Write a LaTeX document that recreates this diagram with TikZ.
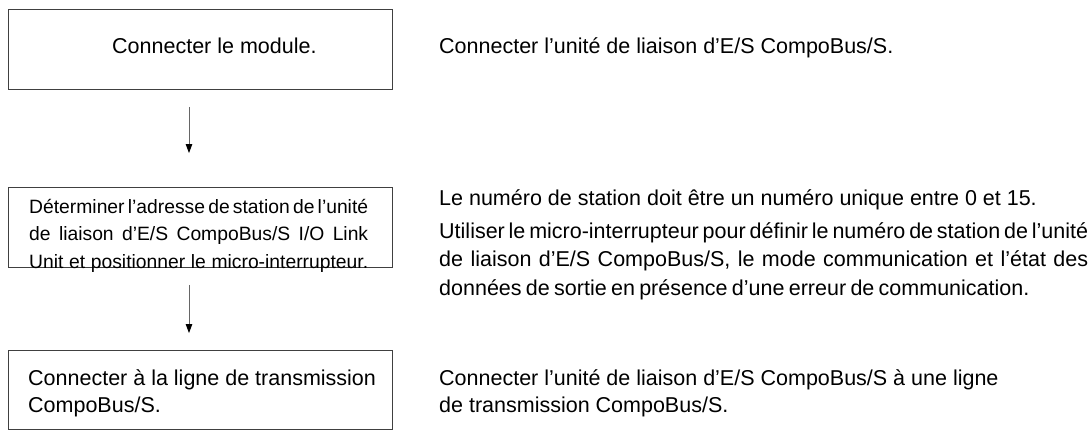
\documentclass[tikz,border=0pt]{standalone}
\usepackage{fontspec}
\setmainfont{Liberation Sans}
\usetikzlibrary{arrows.meta}

\newcommand\boxfont{\fontsize{21.5}{27}\selectfont}
\newcommand\smallboxfont{\fontsize{19.3}{27.5}\selectfont}

\tikzset{
	stepbox/.style={draw=black!75, line width=0.9pt, minimum width=384pt, minimum height=80pt, inner sep=0pt},
	note/.style={anchor=base west, inner sep=0pt, font=\boxfont},
	flowarrow/.style={draw=black!60, line width=0.9pt, -{Triangle[length=9pt,width=6.5pt,color=black]}},
}

\begin{document}
\begin{tikzpicture}[x=1pt,y=-1pt]
			\useasboundingbox (0,0) rectangle (1092,431);

			\node[stepbox] (connect) at (200,49) {};
			\node[note] (connecttext) at (112,53) {Connecter le module.};
			\node[note] (connectnote) at (439,53) {Connecter l’unité de liaison d’E/S CompoBus/S.};

			\node[stepbox] (station) at (200,227.5) {};
			\node[note, font=\smallboxfont] (stationtext) at (29,213) {\parbox[t]{339pt}{\spaceskip=4pt plus 10pt minus 1pt\parfillskip=0pt\hyphenpenalty=10000\exhyphenpenalty=10000
				Déterminer l’adresse de station de l’unité\linebreak de liaison d’E/S CompoBus/S I/O Link\linebreak Unit et positionner le micro-interrupteur.}};
			\node[note] (rangenote) at (439,205) {Le numéro de station doit être un numéro unique entre 0 et 15.};
			\node[note] (switchnote) at (439,238) {\parbox[t]{649pt}{\fontsize{21.5}{28.5}\selectfont\spaceskip=4.3pt plus 8pt minus 1.2pt\hyphenpenalty=10000\exhyphenpenalty=10000
				Utiliser le micro-interrupteur pour définir le numéro de station de l’unité\linebreak de liaison d’E/S CompoBus/S, le mode communication et l’état des\linebreak données de sortie en présence d’une erreur de communication.}};

			\node[stepbox, minimum height=79pt] (line) at (200,389.5) {};
			\node[note] (linetext) at (28,385) {\parbox[t]{360pt}{\raggedright Connecter à la ligne de transmission\\CompoBus/S.}};
			\node[note] (linenote) at (439,385) {\parbox[t]{649pt}{\raggedright Connecter l’unité de liaison d’E/S CompoBus/S à une ligne\\de transmission CompoBus/S.}};

			\draw[flowarrow, shorten <=17.5pt, shorten >=34pt] ([xshift=-11pt]connect.south) -- ([xshift=-11pt]station.north);
			\draw[flowarrow, shorten <=17pt, shorten >=16.5pt] ([xshift=-11pt]station.south) -- ([xshift=-11pt]line.north);
		\end{tikzpicture}
\end{document}
